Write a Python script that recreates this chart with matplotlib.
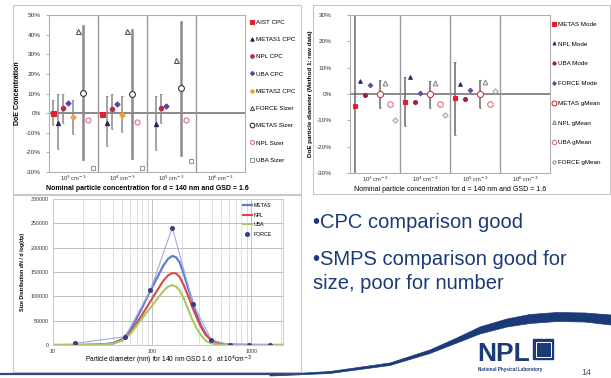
import numpy as np
import matplotlib
matplotlib.use('Agg')
import matplotlib.pyplot as plt
from matplotlib.patches import Rectangle, Polygon
from matplotlib.lines import Line2D
from matplotlib.ticker import FuncFormatter, NullFormatter, LogLocator

plt.rcParams['font.family'] = ['Liberation Sans', 'DejaVu Sans']
plt.rcParams['axes.unicode_minus'] = False

nan = np.nan

# ---- data: top left (DoE concentration, %) ----
conc_labels = ['10$^3$ cm$^{-3}$', '10$^4$ cm$^{-3}$', '10$^5$ cm$^{-3}$', '10$^6$ cm$^{-3}$']
aist_cpc = [0.0, -0.5, nan]
metas1_cpc = [-4.8, -4.8, -5.3]
npl_cpc = [2.5, 2.0, 2.4]
uba_cpc = [5.4, 4.9, 3.4]
metas2_cpc = [-2.2, -0.8, nan]
force_sizer = [42.0, 41.6, 27.0]
metas_sizer = [10.5, 9.7, 12.6]
npl_sizer = [-3.6, -4.4, -3.6]
uba_sizer = [-28.0, -28.2, -24.3]
# error bar ends (high, low)
aist_cpc_hi, aist_cpc_lo = [6.6, nan, nan], [-6.1, nan, nan]
metas1_cpc_hi, metas1_cpc_lo = [9.6, 8.5, 8.8], [-18.3, -17.0, -18.7]
npl_cpc_hi, npl_cpc_lo = [9.6, 9.6, 10.0], [-5.0, -8.0, -5.0]
metas2_cpc_hi, metas2_cpc_lo = [6.8, 8.8, nan], [-10.7, -9.8, nan]
metas_sizer_hi, metas_sizer_lo = [45.0, 43.0, 47.0], [-24.0, -23.4, -21.7]

# ---- data: top right (DoE particle diameter, %) ----
metas_mode = [-4.5, -2.9, -1.6]
metas_mode_hi, metas_mode_lo = [45.0, 6.3, 12.2], [-45.0, -12.0, -15.5]
npl_mode = [5.0, 6.5, 3.8]
uba_mode = [-0.3, -3.1, -2.0]
force_mode = [3.4, 0.5, 1.5]
metas_gmean = [0.0, 0.0, 0.0]
metas_gmean_hi, metas_gmean_lo = [5.3, 4.9, 5.3], [-5.4, -5.4, -5.4]
npl_gmean = [4.0, 4.0, 4.4]
uba_gmean = [-3.8, -3.8, -3.9]
force_gmean = [-10.0, -7.9, 1.1]

# ---- data: bottom (size distributions) ----
diam = [10, 20, 30, 40, 50, 60, 70, 80, 90, 100, 115, 130, 145, 160, 175, 190,
        210, 230, 255, 280, 310, 350, 400, 470, 550, 700, 1000, 2100]
metas_dist = [0, 200, 1000, 3500, 12000, 30000, 55000, 78000, 100000, 118000, 142000,
              163000, 177000, 183000, 180000, 170000, 145000, 118000, 90000, 65000,
              42000, 22000, 10000, 4000, 1500, 500, 100, 0]
npl_dist = [0, 150, 800, 3000, 10000, 25000, 45000, 63000, 80000, 95000, 115000,
            132000, 143000, 148000, 147000, 140000, 122000, 102000, 78000, 58000,
            38000, 20000, 9000, 3500, 1200, 400, 100, 0]
uba_dist = [0, 100, 700, 2500, 9000, 22000, 40000, 55000, 69000, 80000, 97000,
            111000, 120000, 123000, 120000, 112000, 95000, 75000, 52000, 35000,
            21000, 8000, 3000, 800, 300, 100, 0, 0]
force_diam = [16.6, 53.6, 96, 160, 261, 398, 611, 962, 1536]
force_dist = [3500, 17000, 112000, 241000, 84000, 10000, 700, 300, 200]

W, H = 611, 378
fig = plt.figure(figsize=(W / 100, H / 100), dpi=100)


def px_axes(x0, y0, x1, y1, **kw):
    return fig.add_axes([x0 / W, 1 - y1 / H, (x1 - x0) / W, (y1 - y0) / H], **kw)


navy = '#1b3b78'
grid_c = '#9a9a9a'
tick_fs = 4.6

# background: panel frames, swoosh, logo, bullet text
bg = px_axes(0, 0, W, H, zorder=-5)
bg.set_xlim(0, W)
bg.set_ylim(H, 0)
bg.axis('off')
for x0, y0, x1, y1 in [(13, 5, 301, 194), (313, 5, 610, 194), (13, 195, 301, 372)]:
    bg.add_patch(Rectangle((x0, y0), x1 - x0, y1 - y0, fill=False, ec='#c8c8c8', lw=0.8))
bg.plot([0, 300], [374, 374], color='#2a4a8a', lw=1.6)
upper = [(270, 375), (330, 371.5), (390, 363), (430, 350), (457, 338), (480, 327),
         (507, 319), (530, 314.5), (557, 312.5), (585, 313), (611, 315)]
lower = [(611, 325), (585, 322), (557, 321.5), (530, 323.5), (507, 327), (480, 334),
         (457, 343), (430, 353.5), (390, 365.5), (330, 373.5), (270, 376)]
bg.add_patch(Polygon(upper + lower, closed=True, fc=navy, ec=navy, lw=0.5))
bg.text(477, 361, 'NPL', fontsize=19, fontweight='bold', color=navy, va='baseline')
bg.add_patch(Rectangle((533, 339), 20, 20, fc=navy, ec=navy))
bg.add_patch(Rectangle((535.5, 341.5), 15, 15, fill=False, ec='white', lw=0.7))
bg.text(478, 371.5, 'National Physical Laboratory', fontsize=3.3, fontweight='bold',
        color=navy, va='baseline')
bg.text(581, 375, '14', fontsize=6.5, color='#40507a', va='baseline')
bg.text(313, 228, '\u2022CPC comparison good', fontsize=14.5, color=navy, va='baseline')
bg.text(313, 265, '\u2022SMPS comparison good for', fontsize=14.5, color=navy, va='baseline')
bg.text(313, 289, 'size, poor for number', fontsize=14.5, color=navy, va='baseline')


def style_group_axes(ax, ylo, yhi, ypad):
    ax.set_xlim(0, 4)
    ax.set_ylim(ylo, yhi)
    ax.set_xticks(np.arange(4) + 0.5)
    ax.set_xticklabels(conc_labels, fontsize=4.2, color='#333333')
    ax.set_xticks([1, 2, 3], minor=True)
    ax.grid(which='minor', axis='x', color=grid_c, lw=1.0)
    ax.tick_params(axis='x', which='both', length=0, pad=1.5)
    ax.set_yticks(np.arange(ylo, yhi + 1, 10))
    ax.yaxis.set_major_formatter(FuncFormatter(lambda v, p: '%d%%' % v))
    ax.tick_params(axis='y', labelsize=tick_fs, labelcolor='#333333', length=2, width=0.5,
                   color='#888888', pad=ypad)
    ax.axhline(0, color='#808080', lw=1.3, zorder=0.5)
    for s in ax.spines.values():
        s.set_color('#b0b0b0')
        s.set_linewidth(0.8)


def errbars(ax, x, y, hi, lo, lw=1.1, color='#8a8a8a'):
    x, y, hi, lo = map(np.asarray, (x, y, hi, lo))
    ok = ~np.isnan(hi)
    ax.errorbar(x[ok], y[ok], yerr=[y[ok] - lo[ok], hi[ok] - y[ok]], fmt='none',
                ecolor=color, elinewidth=lw, capsize=1.0, capthick=0.6, zorder=1)


# ---- top left ----
ax1 = px_axes(49, 15, 245, 172)
style_group_axes(ax1, -30, 50, 4)
grp = np.arange(3)
cpc_series = [
    ('AIST CPC', aist_cpc, 's', '#e3202a', '#e3202a', 3.6),
    ('METAS1 CPC', metas1_cpc, '^', '#1c2a58', '#1c2a58', 3.0),
    ('NPL CPC', npl_cpc, 'o', '#b23048', '#b23048', 3.2),
    ('UBA CPC', uba_cpc, 'D', '#5a44a0', '#5a44a0', 2.6),
    ('METAS2 CPC', metas2_cpc, 'D', '#f2a040', '#f2a040', 2.8),
    ('FORCE Sizer', force_sizer, '^', '#555555', 'white', 3.6),
    ('METAS Sizer', metas_sizer, 'o', '#333333', 'white', 4.2),
    ('NPL Sizer', npl_sizer, 'o', '#e07088', 'white', 3.6),
    ('UBA Sizer', uba_sizer, 's', '#9a9a9a', 'white', 3.4),
]
cpc_errs = {0: (aist_cpc_hi, aist_cpc_lo, 1.1), 1: (metas1_cpc_hi, metas1_cpc_lo, 1.1),
            2: (npl_cpc_hi, npl_cpc_lo, 1.1), 4: (metas2_cpc_hi, metas2_cpc_lo, 1.1),
            6: (metas_sizer_hi, metas_sizer_lo, 1.8)}
h1 = []
for i, (name, vals, mk, ec, fc, ms) in enumerate(cpc_series):
    x = grp + 0.09 + 0.1 * i
    if i in cpc_errs:
        hi, lo, lw = cpc_errs[i]
        errbars(ax1, x, vals, hi, lo, lw=lw)
    ln, = ax1.plot(x, vals, ls='none', marker=mk, ms=ms, mec=ec, mfc=fc, mew=0.8,
                   label=name, zorder=3)
    h1.append(ln)
ax1.set_ylabel('DoE Concentration', fontsize=5, fontweight='bold', labelpad=3)
ax1.set_xlabel('Nominal particle concentration for d = 140 nm and GSD = 1.6',
               fontsize=5, fontweight='bold', labelpad=1.5)
fig.legend(handles=h1, loc='upper left', bbox_to_anchor=(248 / W, 1 - 17 / H),
           frameon=False, fontsize=4.5, labelspacing=1.9, handlelength=0.6,
           handletextpad=0.2, borderaxespad=0, markerscale=0.8)

# ---- top right ----
ax2 = px_axes(350, 15, 550, 173)
style_group_axes(ax2, -30, 30, 11)
size_series = [
    ('METAS Mode', metas_mode, 's', '#e3202a', '#e3202a', 3.4, 0),
    ('NPL Mode', npl_mode, '^', '#24306a', '#24306a', 2.6, 1),
    ('UBA Mode', uba_mode, 'o', '#a02040', '#a02040', 2.8, 2),
    ('FORCE Mode', force_mode, 'D', '#6050a0', '#6050a0', 2.3, 3),
    ('METAS gMean', metas_gmean, 'o', '#e03030', 'white', 4.4, 5),
    ('NPL gMean', npl_gmean, '^', '#8a8a8a', 'white', 3.4, 6),
    ('UBA gMean', uba_gmean, 'o', '#e07080', 'white', 4.0, 7),
    ('FORCE gMean', force_gmean, 'D', '#a0a0a0', 'white', 2.6, 8),
]
size_errs = {0: (metas_mode_hi, metas_mode_lo, 1.1), 4: (metas_gmean_hi, metas_gmean_lo, 1.1)}
h2 = []
for i, (name, vals, mk, ec, fc, ms, slot) in enumerate(size_series):
    x = grp + 0.1 + 0.1 * slot
    if i in size_errs:
        hi, lo, lw = size_errs[i]
        errbars(ax2, x, vals, hi, lo, lw=lw, color='#6a6a6a')
    ln, = ax2.plot(x, vals, ls='none', marker=mk, ms=ms, mec=ec, mfc=fc, mew=0.8,
                   label=name, zorder=3)
    h2.append(ln)
ax2.set_ylabel('DoE particle diameter (Method 1: raw data)', fontsize=4.5,
               fontweight='bold', labelpad=3)
ax2.set_xlabel('Nominal particle concentration for d = 140 nm and GSD = 1.6',
               fontsize=5, labelpad=1)
fig.legend(handles=h2, loc='upper left', bbox_to_anchor=(550 / W, 1 - 19 / H),
           frameon=False, fontsize=4.5, labelspacing=2.3, handlelength=0.6,
           handletextpad=0.2, borderaxespad=0, markerscale=0.8)

# ---- bottom ----
ax3 = px_axes(53, 199, 283, 345)
ax3.set_xscale('log')
ax3.set_xlim(10, 2100)
ax3.set_ylim(0, 300000)
ax3.set_yticks(np.arange(0, 300001, 50000))
ax3.yaxis.set_major_formatter(FuncFormatter(lambda v, p: '%d' % v))
ax3.xaxis.set_major_formatter(FuncFormatter(lambda v, p: '%d' % v))
ax3.xaxis.set_minor_locator(LogLocator(base=10, subs=np.arange(2, 10)))
ax3.xaxis.set_minor_formatter(NullFormatter())
ax3.grid(which='major', color='#c0c0c0', lw=0.7)
ax3.grid(which='minor', axis='x', color='#d8d8d8', lw=0.6)
ax3.tick_params(which='both', length=0, labelsize=3.8, labelcolor='#333333', pad=3)
for s in ax3.spines.values():
    s.set_color('#c8c8c8')
    s.set_linewidth(0.7)
l_metas, = ax3.plot(diam, metas_dist, color='#5b7fd0', lw=1.6, label='METAS')
l_npl, = ax3.plot(diam, npl_dist, color='#d84848', lw=1.5, label='NPL')
l_uba, = ax3.plot(diam, uba_dist, color='#a8c868', lw=1.5, label='UBA')
l_force, = ax3.plot(force_diam, force_dist, color='#a8a8e0', lw=0.8, marker='o', ms=2.6,
                    mfc='#3c3c84', mec='#3c3c84', label='FORCE')
ax3.set_ylabel('Size Distribution dN / d log(dp)', fontsize=3.8, fontweight='bold', labelpad=4)
ax3.set_xlabel('Particle diameter (nm) for 140 nm GSD 1.6   at 10$^4$cm$^{-3}$', fontsize=4.8,
               labelpad=0)
force_handle = Line2D([], [], ls='none', marker='o', ms=2.6, mfc='#3c3c84', mec='#3c3c84')
ax3.legend(handles=[l_metas, l_npl, l_uba, force_handle], labels=['METAS', 'NPL', 'UBA', 'FORCE'],
           loc='upper left', bbox_to_anchor=(241 / W, 1 - 201 / H), bbox_transform=fig.transFigure,
           frameon=False, fontsize=3.8, labelspacing=0.85, handlelength=1.6,
           handletextpad=0.4, borderaxespad=0)
bg.text(202, 216, 'Mobility', fontsize=3.8, color='#333333', va='baseline')
bg.text(199, 238, 'Aerodynamic', fontsize=3.8, color='#333333', va='baseline')
bg.plot([226, 233], [214, 214], color='#666666', lw=0.5)
bg.plot([241, 236, 236, 241], [205, 205, 227, 227], color='#666666', lw=0.5)

fig.savefig('out.png', dpi=100)
